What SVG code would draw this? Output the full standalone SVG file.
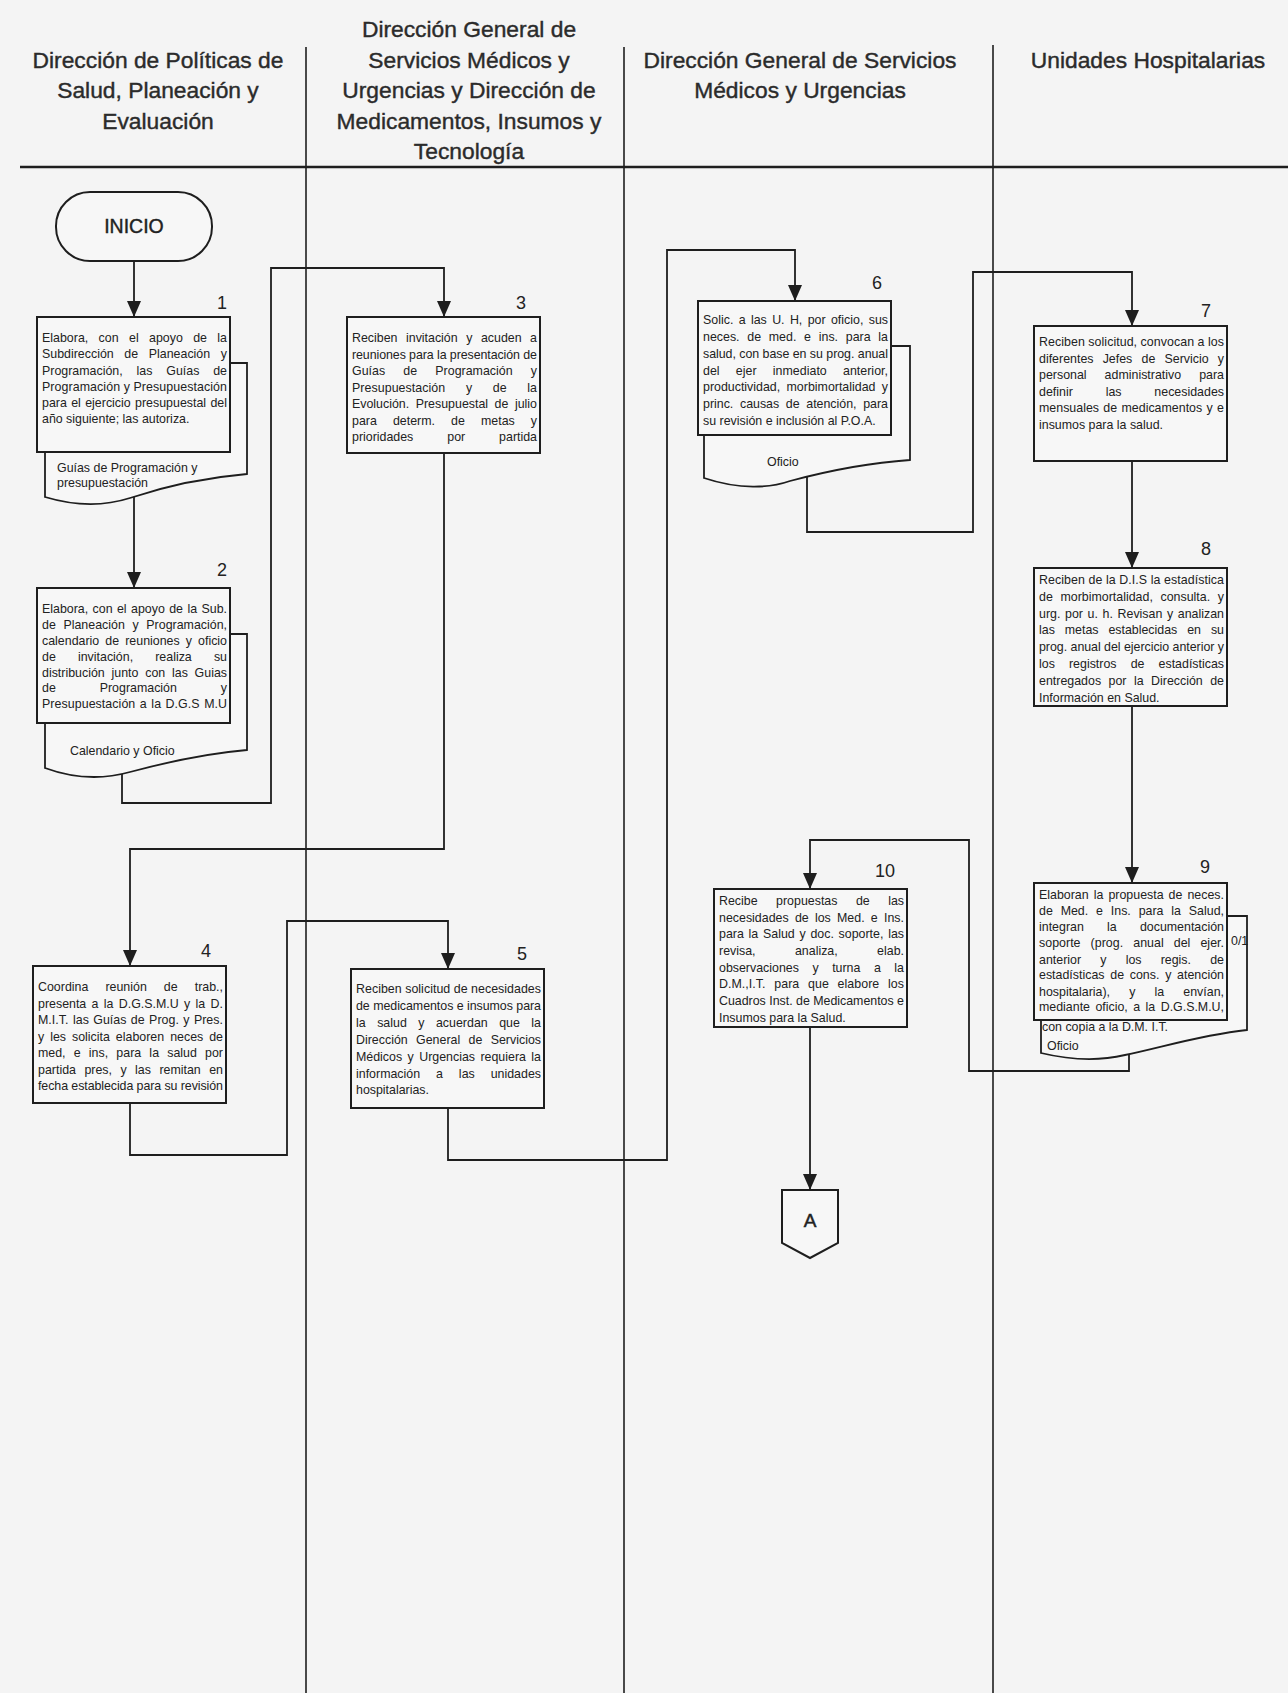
<svg xmlns="http://www.w3.org/2000/svg" width="1288" height="1693" viewBox="0 0 1288 1693">
<defs>
<marker id="ah" markerUnits="userSpaceOnUse" markerWidth="16" markerHeight="14" viewBox="0 0 16 14" refX="16" refY="7" orient="auto">
<path d="M0,0 L16,7 L0,14 Z" fill="#1e1e1e"/>
</marker>
<style>
.hd{font-family:"Liberation Sans",Arial,sans-serif;font-size:22.8px;fill:#2b2b2b;stroke:#2b2b2b;stroke-width:0.4px;text-anchor:middle}
.t{font-family:"Liberation Sans",Arial,sans-serif;font-size:12.4px;fill:#222}
.num{font-family:"Liberation Sans",Arial,sans-serif;font-size:18px;fill:#222;text-anchor:end}
.box{fill:#f7f7f7;stroke:#1e1e1e;stroke-width:2}
.doc{fill:#f7f7f7;stroke:#1e1e1e;stroke-width:1.8}
.lane{stroke:#1e1e1e;stroke-width:1.6;fill:none}
.cn{fill:none;stroke:#1e1e1e;stroke-width:1.8}
.arr{marker-end:url(#ah)}
</style>
</defs>
<rect x="0" y="0" width="1288" height="1693" fill="#f4f4f4"/>

<g id="lanes">
<line class="lane" x1="306" y1="47" x2="306" y2="1693"/>
<line class="lane" x1="624" y1="47" x2="624" y2="1693"/>
<line class="lane" x1="993" y1="45" x2="993" y2="1693"/>
<line x1="20" y1="167" x2="1288" y2="167" stroke="#1e1e1e" stroke-width="2.6"/>
</g>

<g id="header">
<text class="hd" x="158" y="68">Dirección de Políticas de</text>
<text class="hd" x="158" y="98">Salud, Planeación y</text>
<text class="hd" x="158" y="129">Evaluación</text>
<text class="hd" x="469" y="37">Dirección General de</text>
<text class="hd" x="469" y="68">Servicios Médicos y</text>
<text class="hd" x="469" y="98">Urgencias y Dirección de</text>
<text class="hd" x="469" y="129">Medicamentos, Insumos y</text>
<text class="hd" x="469" y="159">Tecnología</text>
<text class="hd" x="800" y="68">Dirección General de Servicios</text>
<text class="hd" x="800" y="98">Médicos y Urgencias</text>
<text class="hd" x="1148" y="68">Unidades Hospitalarias</text>
</g>

<g id="connectors">
<path class="cn arr" d="M134,261 V317"/>
<path class="cn arr" d="M134,495 V588"/>
<path class="cn arr" d="M122,770 V803 H271 V268 H444 V317"/>
<path class="cn arr" d="M444,453 V849 H130 V966"/>
<path class="cn arr" d="M130,1103 V1155 H287 V921 H448 V969"/>
<path class="cn arr" d="M448,1108 V1160 H667 V250 H795 V301"/>
<path class="cn arr" d="M807,475 V532 H973 V272 H1132 V326"/>
<path class="cn arr" d="M1132,461 V568"/>
<path class="cn arr" d="M1132,706 V883"/>
<path class="cn arr" d="M1129,1050 V1071 H969 V840 H810 V889"/>
<path class="cn arr" d="M810,1027 V1190"/>
</g>

<g id="inicio">
<rect x="56" y="192" width="156" height="69" rx="34" ry="34" fill="#f7f7f7" stroke="#1e1e1e" stroke-width="2"/>
<text x="134" y="233" text-anchor="middle" font-family="Liberation Sans, Arial, sans-serif" font-size="19.5" fill="#222" stroke="#222" stroke-width="0.4">INICIO</text>
</g>

<g id="n1">
<path class="doc" d="M45,363 H247 V474 C200,478 160,488 130,498 C105,506 75,506 45,497 Z"/>
<rect class="box" x="37" y="317" width="193" height="135"/>
<text class="num" x="227" y="309">1</text>
<text class="t" x="42" y="342" word-spacing="6.9" textLength="185" lengthAdjust="spacing">Elabora, con el apoyo de la</text>
<text class="t" x="42" y="358" word-spacing="7.2" textLength="185" lengthAdjust="spacing">Subdirección de Planeación y</text>
<text class="t" x="42" y="374.5" word-spacing="10.4" textLength="185" lengthAdjust="spacing">Programación, las Guías de</text>
<text class="t" x="42" y="390.5" textLength="185" lengthAdjust="spacing">Programación y Presupuestación</text>
<text class="t" x="42" y="407" word-spacing="0.9" textLength="185" lengthAdjust="spacing">para el ejercicio presupuestal del</text>
<text class="t" x="42" y="423">año siguiente; las autoriza.</text>
<text class="t" x="57" y="472">Guías de Programación y</text>
<text class="t" x="57" y="487">presupuestación</text>
</g>

<g id="n2">
<path class="doc" d="M45,634 H247 V750 C200,754 160,764 130,772 C105,779 75,779 45,768 Z"/>
<rect class="box" x="37" y="588" width="193" height="135"/>
<text class="num" x="227" y="576">2</text>
<text class="t" x="42" y="613" word-spacing="1" textLength="185" lengthAdjust="spacing">Elabora, con el apoyo de la Sub.</text>
<text class="t" x="42" y="629" word-spacing="4.2" textLength="185" lengthAdjust="spacing">de Planeación y Programación,</text>
<text class="t" x="42" y="645" word-spacing="2.65" textLength="185" lengthAdjust="spacing">calendario de reuniones y oficio</text>
<text class="t" x="42" y="661" word-spacing="18.7" textLength="185" lengthAdjust="spacing">de invitación, realiza su</text>
<text class="t" x="42" y="676.5" word-spacing="3.35" textLength="185" lengthAdjust="spacing">distribución junto con las Guias</text>
<text class="t" x="42" y="692" word-spacing="40.5" textLength="185" lengthAdjust="spacing">de Programación y</text>
<text class="t" x="42" y="708" word-spacing="1" textLength="185" lengthAdjust="spacing">Presupuestación a la D.G.S M.U</text>
<text class="t" x="70" y="755">Calendario y Oficio</text>
</g>

<g id="n3">
<rect class="box" x="347" y="317" width="193" height="136"/>
<text class="num" x="526" y="309">3</text>
<text class="t" x="352" y="342" word-spacing="5.1" textLength="185" lengthAdjust="spacing">Reciben invitación y acuden a</text>
<text class="t" x="352" y="358.5" textLength="185" lengthAdjust="spacing">reuniones para la presentación de</text>
<text class="t" x="352" y="375" word-spacing="14.8" textLength="185" lengthAdjust="spacing">Guías de Programación y</text>
<text class="t" x="352" y="391.5" word-spacing="17.1" textLength="185" lengthAdjust="spacing">Presupuestación y de la</text>
<text class="t" x="352" y="408" word-spacing="3.1" textLength="185" lengthAdjust="spacing">Evolución. Presupuestal de julio</text>
<text class="t" x="352" y="424.5" word-spacing="12.6" textLength="185" lengthAdjust="spacing">para determ. de metas y</text>
<text class="t" x="352" y="441" word-spacing="30.5" textLength="185" lengthAdjust="spacing">prioridades por partida</text>
</g>

<g id="n4">
<rect class="box" x="33" y="966" width="193" height="137"/>
<text class="num" x="211" y="957">4</text>
<text class="t" x="38" y="991" word-spacing="13.6" textLength="185" lengthAdjust="spacing">Coordina reunión de trab.,</text>
<text class="t" x="38" y="1007.5" word-spacing="1.9" textLength="185" lengthAdjust="spacing">presenta a la D.G.S.M.U y la D.</text>
<text class="t" x="38" y="1024" word-spacing="0.85" textLength="185" lengthAdjust="spacing">M.I.T. las Guías de Prog. y Pres.</text>
<text class="t" x="38" y="1040.5" word-spacing="2.5" textLength="185" lengthAdjust="spacing">y les solicita elaboren neces de</text>
<text class="t" x="38" y="1057" word-spacing="4.75" textLength="185" lengthAdjust="spacing">med, e ins, para la salud por</text>
<text class="t" x="38" y="1073.5" word-spacing="5" textLength="185" lengthAdjust="spacing">partida pres, y las remitan en</text>
<text class="t" x="38" y="1090" textLength="185" lengthAdjust="spacing">fecha establecida para su revisión</text>
</g>

<g id="n5">
<rect class="box" x="351" y="969" width="193" height="139"/>
<text class="num" x="527" y="960">5</text>
<text class="t" x="356" y="993" textLength="185" lengthAdjust="spacing">Reciben solicitud de necesidades</text>
<text class="t" x="356" y="1010" textLength="185" lengthAdjust="spacing">de medicamentos e insumos para</text>
<text class="t" x="356" y="1027" word-spacing="8" textLength="185" lengthAdjust="spacing">la salud y acuerdan que la</text>
<text class="t" x="356" y="1044" word-spacing="4.9" textLength="185" lengthAdjust="spacing">Dirección General de Servicios</text>
<text class="t" x="356" y="1061" word-spacing="2" textLength="185" lengthAdjust="spacing">Médicos y Urgencias requiera la</text>
<text class="t" x="356" y="1078" word-spacing="12.5" textLength="185" lengthAdjust="spacing">información a las unidades</text>
<text class="t" x="356" y="1094">hospitalarias.</text>
</g>

<g id="n6">
<path class="doc" d="M704,346 H910 V460 C865,463 820,473 790,481 C770,488 740,490 704,478 Z"/>
<rect class="box" x="698" y="301" width="193" height="134"/>
<text class="num" x="882" y="289">6</text>
<text class="t" x="703" y="324" word-spacing="1.9" textLength="185" lengthAdjust="spacing">Solic. a las U. H, por oficio, sus</text>
<text class="t" x="703" y="341" word-spacing="4.3" textLength="185" lengthAdjust="spacing">neces. de med. e ins. para la</text>
<text class="t" x="703" y="358" textLength="185" lengthAdjust="spacing">salud, con base en su prog. anual</text>
<text class="t" x="703" y="374.5" word-spacing="12.7" textLength="185" lengthAdjust="spacing">del ejer inmediato anterior,</text>
<text class="t" x="703" y="391" word-spacing="2.9" textLength="185" lengthAdjust="spacing">productividad, morbimortalidad y</text>
<text class="t" x="703" y="408" word-spacing="3.2" textLength="185" lengthAdjust="spacing">princ. causas de atención, para</text>
<text class="t" x="703" y="425">su revisión e inclusión al P.O.A.</text>
<text class="t" x="767" y="466">Oficio</text>
</g>

<g id="n7">
<rect class="box" x="1034" y="326" width="193" height="135"/>
<text class="num" x="1211" y="317">7</text>
<text class="t" x="1039" y="346" textLength="185" lengthAdjust="spacing">Reciben solicitud, convocan a los</text>
<text class="t" x="1039" y="362.5" word-spacing="5.75" textLength="185" lengthAdjust="spacing">diferentes Jefes de Servicio y</text>
<text class="t" x="1039" y="379" word-spacing="14.6" textLength="185" lengthAdjust="spacing">personal administrativo para</text>
<text class="t" x="1039" y="395.5" word-spacing="29.4" textLength="185" lengthAdjust="spacing">definir las necesidades</text>
<text class="t" x="1039" y="412" word-spacing="0.9" textLength="185" lengthAdjust="spacing">mensuales de medicamentos y e</text>
<text class="t" x="1039" y="428.5">insumos para la salud.</text>
</g>

<g id="n8">
<rect class="box" x="1034" y="568" width="193" height="138"/>
<text class="num" x="1211" y="555">8</text>
<text class="t" x="1039" y="584" textLength="185" lengthAdjust="spacing">Reciben de la D.I.S la estadística</text>
<text class="t" x="1039" y="601" word-spacing="4.2" textLength="185" lengthAdjust="spacing">de morbimortalidad, consulta. y</text>
<text class="t" x="1039" y="617.5" word-spacing="1.2" textLength="185" lengthAdjust="spacing">urg. por u. h. Revisan y analizan</text>
<text class="t" x="1039" y="634" word-spacing="6.45" textLength="185" lengthAdjust="spacing">las metas establecidas en su</text>
<text class="t" x="1039" y="651" textLength="185" lengthAdjust="spacing">prog. anual del ejercicio anterior y</text>
<text class="t" x="1039" y="668" word-spacing="10.7" textLength="185" lengthAdjust="spacing">los registros de estadísticas</text>
<text class="t" x="1039" y="685" word-spacing="4" textLength="185" lengthAdjust="spacing">entregados por la Dirección de</text>
<text class="t" x="1039" y="701.5">Información en Salud.</text>
</g>

<g id="n9">
<path class="doc" d="M1041,916 H1247 V1030 C1200,1035 1160,1048 1125,1055 C1100,1061 1070,1060 1041,1053 Z"/>
<rect class="box" x="1034" y="883" width="193" height="137"/>
<text class="num" x="1210" y="873">9</text>
<text class="t" x="1039" y="899" word-spacing="1.6" textLength="185" lengthAdjust="spacing">Elaboran la propuesta de neces.</text>
<text class="t" x="1039" y="915" word-spacing="4.4" textLength="185" lengthAdjust="spacing">de Med. e Ins. para la Salud,</text>
<text class="t" x="1039" y="931" word-spacing="19.8" textLength="185" lengthAdjust="spacing">integran la documentación</text>
<text class="t" x="1039" y="947" word-spacing="6.6" textLength="185" lengthAdjust="spacing">soporte (prog. anual del ejer.</text>
<text class="t" x="1039" y="963.5" word-spacing="15.75" textLength="185" lengthAdjust="spacing">anterior y los regis. de</text>
<text class="t" x="1039" y="979" word-spacing="2.3" textLength="185" lengthAdjust="spacing">estadísticas de cons. y atención</text>
<text class="t" x="1039" y="995.5" word-spacing="15.7" textLength="185" lengthAdjust="spacing">hospitalaria), y la envían,</text>
<text class="t" x="1039" y="1011" word-spacing="2" textLength="185" lengthAdjust="spacing">mediante oficio, a la D.G.S.M.U,</text>
<text class="t" x="1042" y="1031">con copia a la D.M. I.T.</text>
<text class="t" x="1047" y="1050">Oficio</text>
<text class="t" x="1231" y="945">0/1</text>
</g>

<g id="n10">
<rect class="box" x="714" y="889" width="193" height="138"/>
<text class="num" x="895" y="877">10</text>
<text class="t" x="719" y="905" word-spacing="15" textLength="185" lengthAdjust="spacing">Recibe propuestas de las</text>
<text class="t" x="719" y="921.5" word-spacing="2.8" textLength="185" lengthAdjust="spacing">necesidades de los Med. e Ins.</text>
<text class="t" x="719" y="938" word-spacing="1.3" textLength="185" lengthAdjust="spacing">para la Salud y doc. soporte, las</text>
<text class="t" x="719" y="955" word-spacing="36" textLength="185" lengthAdjust="spacing">revisa, analiza, elab.</text>
<text class="t" x="719" y="971.5" word-spacing="10.1" textLength="185" lengthAdjust="spacing">observaciones y turna a la</text>
<text class="t" x="719" y="988" word-spacing="5.25" textLength="185" lengthAdjust="spacing">D.M.,I.T. para que elabore los</text>
<text class="t" x="719" y="1005" textLength="185" lengthAdjust="spacing">Cuadros Inst. de Medicamentos e</text>
<text class="t" x="719" y="1021.5">Insumos para la Salud.</text>
</g>

<g id="connA">
<path d="M782,1190 H838 V1243 L810,1258 L782,1243 Z" fill="#f7f7f7" stroke="#1e1e1e" stroke-width="2"/>
<text x="810" y="1227" text-anchor="middle" font-family="Liberation Sans, Arial, sans-serif" font-size="19" fill="#222" stroke="#222" stroke-width="0.5">A</text>
</g>
</svg>
